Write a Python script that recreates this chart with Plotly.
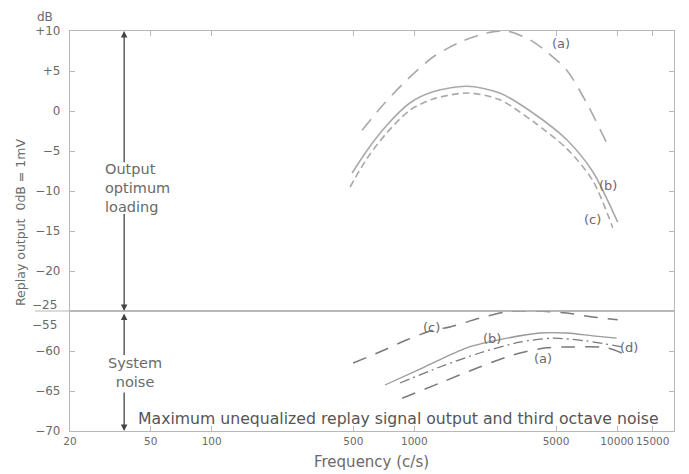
import math
import plotly.graph_objects as go
from plotly.subplots import make_subplots

# ---------------- data ----------------
# Upper panel: maximum replay output (dB re 1 mV)
top_a_freq = [552, 700, 920, 1236, 1680, 2280, 2860, 3715, 4500, 5650, 7080, 8890]
top_a_db = [-2.4, 0.75, 3.9, 6.75, 8.6, 9.75, 10.0, 8.9, 7.4, 5.1, 1.0, -4.0]

top_b_freq = [493, 585, 733, 950, 1236, 1815, 2640, 3850, 5650, 7590, 10070]
top_b_db = [-7.75, -4.9, -1.75, 1.0, 2.4, 3.1, 2.25, -0.25, -3.6, -7.6, -13.9]

top_c_freq = [482, 585, 733, 950, 1236, 1840, 2640, 3850, 5650, 7590, 9530]
top_c_db = [-9.5, -5.9, -2.7, 0.1, 1.5, 2.25, 1.4, -1.3, -4.7, -8.7, -14.6]

# Lower panel: third octave system noise (dB)
bot_c_freq = [499, 678, 920, 1236, 1497, 2100, 2860, 3850, 5650, 7590, 10070]
bot_c_db = [-61.5, -60.1, -58.6, -57.4, -57.0, -55.9, -55.1, -55.0, -55.25, -55.75, -56.1]

bot_b_freq = [716, 1100, 1815, 2860, 4160, 5650, 7590, 9940]
bot_b_db = [-64.25, -62.1, -59.6, -58.4, -57.75, -57.75, -58.1, -58.4]

bot_d_freq = [849, 1337, 2100, 3310, 4820, 7080, 11140]
bot_d_db = [-64.0, -62.0, -60.25, -58.9, -58.4, -58.75, -59.6]

bot_a_freq = [871, 1337, 2100, 3060, 4500, 6040, 8890, 11140]
bot_a_db = [-65.9, -64.0, -62.0, -60.5, -59.6, -59.5, -59.6, -60.5]

# curve labels: (text, freq, dB, panel)
curve_labels = [
    ("(a)", 5300, 8.5, 1), ("(b)", 9000, -9.25, 1), ("(c)", 7600, -13.5, 1),
    ("(c)", 1220, -57.0, 2), ("(b)", 2410, -58.4, 2), ("(a)", 4300, -60.9, 2),
    ("(d)", 11500, -59.5, 2),
]

x_tick_vals = [20, 50, 100, 500, 1000, 5000, 10000, 15000]
x_tick_text = ["20", "50", "100", "500", "1000", "5000", "10000", "15000"]
top_tick_vals = [10, 5, 0, -5, -10, -15, -20, -25]
top_tick_text = ["+10", "+5", "0", "\u22125", "\u221210", "\u221215", "\u221220", ""]
bot_tick_vals = [-55, -60, -65, -70]
bot_tick_text = ["", "\u221260", "\u221265", "\u221270"]

# annotation arrows (frequency of the vertical arrow, and segment ends in dB)
arrow_freq = 37
top_arrow_segments = [(-6.6, 10.0), (-12.7, -25.0)]     # (tail, head)
bot_arrow_segments = [(-60.7, -55.3), (-65.0, -70.0)]

x_range = [math.log10(20), 4.281]

# ---------------- figure ----------------
FONT = "DejaVu Sans"
TXT = "#6a6a6a"
AX = "#b8b8b8"
TOPC = "#a9a9a9"
BOTC = "#7a7a7a"

fig = make_subplots(rows=2, cols=1, shared_xaxes=False, vertical_spacing=0,
                    row_heights=[0.7, 0.3])

def add(xs, ys, row, color, dash, width=1.6):
    fig.add_trace(go.Scatter(x=xs, y=ys, mode="lines",
                             line=dict(color=color, dash=dash, width=width,
                                       shape="spline", smoothing=0.8),
                             showlegend=False, hoverinfo="skip"), row=row, col=1)

add(top_a_freq, top_a_db, 1, TOPC, "14px,9px")
add(top_b_freq, top_b_db, 1, TOPC, "solid")
add(top_c_freq, top_c_db, 1, TOPC, "7px,4px")
add(bot_c_freq, bot_c_db, 2, BOTC, "14px,10px", 1.5)
add(bot_b_freq, bot_b_db, 2, "#9a9a9a", "solid", 1.3)
add(bot_d_freq, bot_d_db, 2, BOTC, "10px,4px,2px,4px", 1.3)
add(bot_a_freq, bot_a_db, 2, BOTC, "14px,10px", 1.5)

axis_common = dict(type="log", range=x_range, showgrid=False, zeroline=False,
                   showline=True, linecolor=AX, linewidth=1.2,
                   ticks="inside", ticklen=5, tickcolor=AX, tickangle=0,
                   tickvals=x_tick_vals, ticktext=x_tick_text)
fig.update_xaxes(**axis_common, side="top", mirror=True, showticklabels=False, row=1, col=1)
fig.update_xaxes(**axis_common, side="bottom", mirror=True, showticklabels=True,
                 tickfont=dict(family=FONT, size=10.5, color=TXT), row=2, col=1)

yax = dict(showgrid=False, zeroline=False, showline=True, linecolor=AX, linewidth=1.2,
           ticks="inside", ticklen=5, tickcolor=AX, mirror="ticks",
           tickfont=dict(family=FONT, size=12, color=TXT), ticklabelstandoff=6)
fig.update_yaxes(**yax, range=[-25, 10], tickvals=top_tick_vals, ticktext=top_tick_text,
                 row=1, col=1)
fig.update_yaxes(**yax, range=[-70, -55], tickvals=bot_tick_vals, ticktext=bot_tick_text,
                 row=2, col=1)

def px(xp):  # pixel x -> paper
    return (xp - 70) / 604.0

def py(yp):  # pixel y -> paper
    return (431 - yp) / 400.0

ann = []
# -25 / -55 labels around the split
ann.append(dict(text="\u221225", xref="paper", yref="paper", x=-0.018, y=0.3,
                xanchor="right", yanchor="middle", yshift=6, showarrow=False,
                font=dict(family=FONT, size=12, color=TXT)))
ann.append(dict(text="\u221255", xref="paper", yref="paper", x=-0.018, y=0.3,
                xanchor="right", yanchor="middle", yshift=-14, showarrow=False,
                font=dict(family=FONT, size=12, color=TXT)))
ann.append(dict(text="dB", xref="paper", yref="paper", x=px(45), y=py(17),
                xanchor="center", yanchor="middle", showarrow=False,
                font=dict(family=FONT, size=12, color=TXT)))

# arrows (broken around the text blocks)
lx = math.log10(arrow_freq)
for tail, head in top_arrow_segments:
    ann.append(dict(x=lx, y=head, ax=lx, ay=tail, xref="x", yref="y", axref="x", ayref="y",
                    text="", showarrow=True, arrowhead=2, arrowsize=1, arrowwidth=1.3,
                    arrowcolor="#444"))
for tail, head in bot_arrow_segments:
    ann.append(dict(x=lx, y=head, ax=lx, ay=tail, xref="x2", yref="y2", axref="x2",
                    ayref="y2", text="", showarrow=True, arrowhead=2, arrowsize=1,
                    arrowwidth=1.3, arrowcolor="#444"))

# text blocks
ann.append(dict(text="Output<br>optimum<br>loading", xref="paper", yref="paper",
                x=px(103), y=py(188), xanchor="left", yanchor="middle", align="left",
                showarrow=False, font=dict(family=FONT, size=14.5, color=TXT)))
ann.append(dict(text="System<br>noise", xref="paper", yref="paper",
                x=px(135), y=py(372), xanchor="center", yanchor="middle", align="center",
                showarrow=False, font=dict(family=FONT, size=14.5, color=TXT)))
ann.append(dict(text="Maximum unequalized replay signal output and third octave noise",
                xref="paper", yref="paper", x=px(398), y=py(418), xanchor="center",
                yanchor="middle", showarrow=False,
                font=dict(family=FONT, size=15.7, color="#555")))

# axis titles
ann.append(dict(text="Replay output  0dB = 1mV", xref="paper", yref="paper",
                x=px(20), y=py(223), textangle=-90, xanchor="center", yanchor="middle",
                showarrow=False, font=dict(family=FONT, size=12.5, color=TXT)))
ann.append(dict(text="Frequency (c/s)", xref="paper", yref="paper", x=px(371), y=py(462),
                xanchor="center", yanchor="middle", showarrow=False,
                font=dict(family=FONT, size=15, color=TXT)))

# curve labels
for txt, f, v, panel in curve_labels:
    ann.append(dict(text=txt, xref="x" if panel == 1 else "x2",
                    yref="y" if panel == 1 else "y2", x=math.log10(f), y=v,
                    showarrow=False, font=dict(family=FONT, size=13, color=TXT)))

# split line extending left of the frame
shapes = [dict(type="line", xref="paper", yref="paper", x0=px(35), x1=1.0, y0=0.3, y1=0.3,
               line=dict(color=AX, width=1.2))]

fig.update_layout(width=689, height=474, margin=dict(l=70, r=15, t=31, b=43),
                  paper_bgcolor="white", plot_bgcolor="white",
                  annotations=ann, shapes=shapes, showlegend=False)

fig.write_html("out.html", config={"displayModeBar": False},
               post_script="document.body.style.margin='0';")
